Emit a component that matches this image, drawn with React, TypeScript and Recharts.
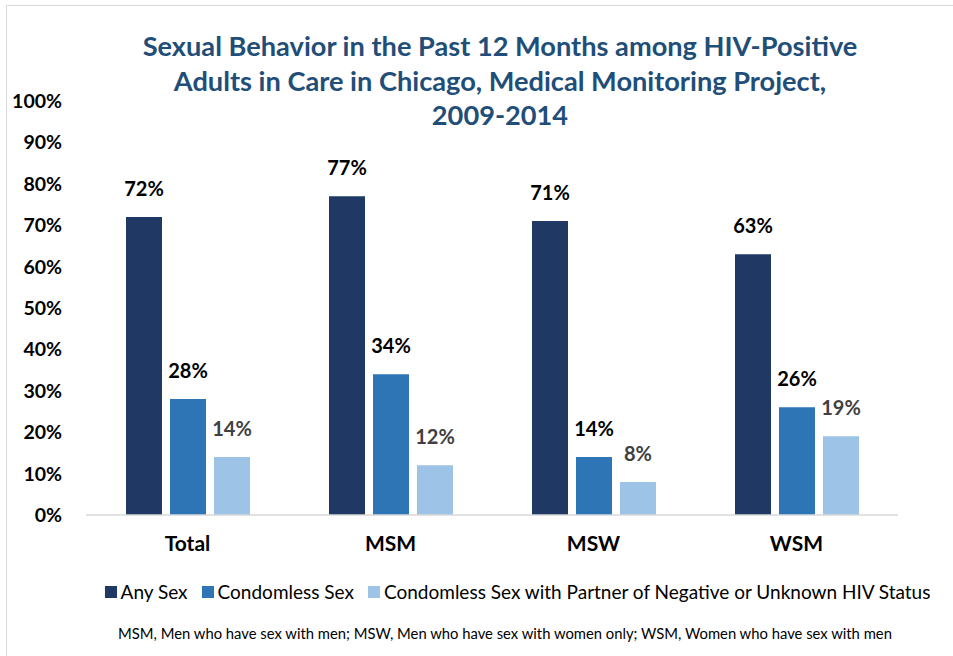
import { BarChart, Bar, XAxis, YAxis, LabelList } from 'recharts';

const groups = ['Total', 'MSM', 'MSW', 'WSM'];
const anySex = [72, 77, 71, 63];
const condomless = [28, 34, 14, 26];
const negUnknown = [14, 12, 8, 19];
const yTicks = [0, 10, 20, 30, 40, 50, 60, 70, 80, 90, 100];

const series = [
  { key: 'any', name: 'Any Sex', color: '#1f3864', label: '#000' },
  { key: 'condomless', name: 'Condomless Sex', color: '#2e75b6', label: '#000' },
  { key: 'neg', name: 'Condomless Sex with Partner of Negative or Unknown HIV Status', color: '#9dc3e6', label: '#404040' },
];

const data = groups.map((g, i) => ({
  group: g,
  any: anySex[i],
  condomless: condomless[i],
  neg: negUnknown[i],
}));

const FONT = 'Lato, "Open Sans", sans-serif';

export default function App() {
  return (
    <div style={{ position: 'absolute', left: 0, top: 0, width: 953, height: 656, overflow: 'hidden', background: '#fff', fontFamily: FONT }}>
      <div style={{ position: 'absolute', left: 6, top: 5, width: 1000, height: 700, border: '1px solid #d9d9d9' }} />
      <div
        style={{
          position: 'absolute',
          left: 0,
          top: 29,
          width: 1000,
          textAlign: 'center',
          color: '#1f4e79',
          fontWeight: 700,
          fontSize: 27.2,
          lineHeight: '34.5px',
        }}
      >
        Sexual Behavior in the Past 12 Months among HIV-Positive
        <br />
        Adults in Care in Chicago, Medical Monitoring Project,
        <br />
        2009-2014
      </div>
      <BarChart
        width={953}
        height={656}
        data={data}
        margin={{ top: 101, right: 55, left: 0, bottom: 111 }}
        barSize={36}
        barGap={8}
        style={{ position: 'absolute', left: 0, top: 0 }}
      >
        <XAxis
          dataKey="group"
          tickLine={false}
          axisLine={{ stroke: '#d9d9d9', strokeWidth: 1.5 }}
          tick={{ fill: '#000', fontSize: 21, fontWeight: 700, fontFamily: FONT }}
          tickMargin={15}
        />
        <YAxis
          width={86}
          domain={[0, 100]}
          ticks={yTicks}
          interval={0}
          tickFormatter={(v) => `${v}%`}
          axisLine={false}
          tickLine={false}
          tickMargin={18}
          tick={{ fill: '#000', fontSize: 19.5, fontWeight: 700, fontFamily: FONT }}
        />
        {series.map((s) => (
          <Bar key={s.key} dataKey={s.key} name={s.name} fill={s.color} isAnimationActive={false}>
            <LabelList
              dataKey={s.key}
              position="top"
              offset={21}
              formatter={(v) => `${v}%`}
              fill={s.label}
              fontSize={20}
              fontWeight={700}
              fontFamily={FONT}
            />
          </Bar>
        ))}
      </BarChart>
      <div
        style={{
          position: 'absolute',
          left: 0,
          top: 580,
          width: 1035,
          display: 'flex',
          justifyContent: 'center',
          fontSize: 19,
          color: '#000',
          gap: 14,
        }}
      >
        {series.map((s) => (
          <div key={s.key} style={{ display: 'flex', alignItems: 'center' }}>
            <span style={{ width: 12, height: 12, background: s.color, marginRight: 4, display: 'inline-block' }} />
            <span>{s.name}</span>
          </div>
        ))}
      </div>
      <div
        style={{
          position: 'absolute',
          left: 0,
          top: 624,
          width: 1010,
          textAlign: 'center',
          fontSize: 14.8,
          color: '#000',
        }}
      >
        MSM, Men who have sex with men; MSW, Men who have sex with women only; WSM, Women who have sex with men
      </div>
    </div>
  );
}
